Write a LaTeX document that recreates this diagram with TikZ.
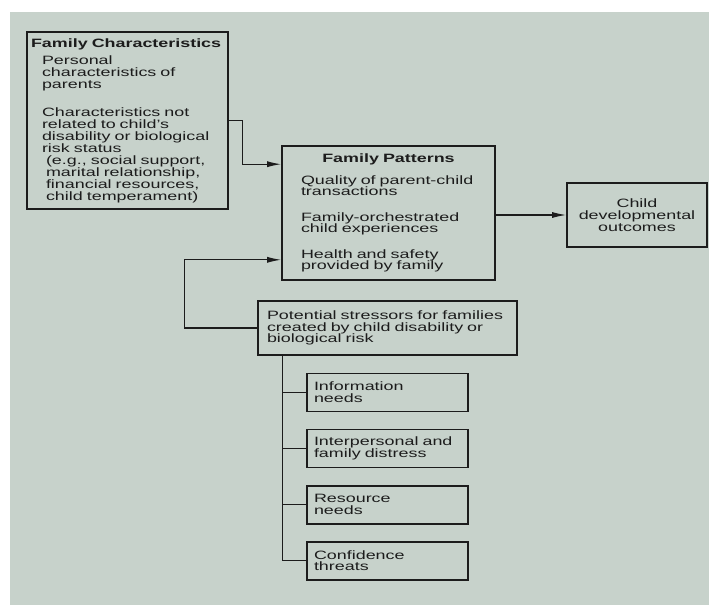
\documentclass[tikz,border=0pt]{standalone}
\usepackage{fontspec}
\setmainfont{Liberation Sans}[FakeStretch=1.48]
\usetikzlibrary{positioning,arrows.meta}
\definecolor{paper}{RGB}{199,210,203}
\definecolor{ink}{RGB}{28,28,28}
\begin{document}
\begin{tikzpicture}[x=1pt, y=-1pt,
  caja/.style={draw=ink, line width=1.6pt, text=ink, inner ysep=1pt, align=left,
    font={\fontsize{12.1}{11.7}\selectfont\lineskiplimit=-30pt}},
  cajita/.style={caja, text width=147pt, inner xsep=7pt, minimum height=38pt},
  linea/.style={draw=ink, line width=1.2pt},
  flecha/.style={linea, -{Latex[length=14pt, width=6pt]}},
  node distance=16.5pt
]
\useasboundingbox (0,0) rectangle (709,605);
\fill[white] (0,0) rectangle (709,605);
\fill[paper] (10,12) rectangle (709,605);

\node[caja, text width=193pt, inner xsep=4pt, minimum height=177pt,
  font={\fontsize{12.1}{12}\selectfont\lineskiplimit=-30pt}] (fc) at (127.5,120.5)
  {\textbf{Family Characteristics}\\[5pt]
   \hspace*{11pt}Personal\\
   \hspace*{11pt}characteristics of\\
   \hspace*{11pt}parents\\[16pt]
   \hspace*{11pt}Characteristics not\\
   \hspace*{11pt}related to child's\\
   \hspace*{11pt}disability or biological\\
   \hspace*{11pt}risk status\\
   \hspace*{15pt}(e.g., social support,\\
   \hspace*{15pt}marital relationship,\\
   \hspace*{15pt}financial resources,\\
   \hspace*{15pt}child temperament)};

\node[caja, text width=175pt, inner xsep=19pt, minimum height=134pt,
  font={\fontsize{12.1}{11.5}\selectfont\lineskiplimit=-30pt}] (fp) at (388.5,213)
  {\makebox[175pt]{\textbf{Family Patterns}}\\[10pt]
   Quality of parent-child\\
   transactions\\[14pt]
   Family-orchestrated\\
   child experiences\\[14pt]
   Health and safety\\
   provided by family};

\node[caja, align=center, text width=130pt, inner xsep=5pt, minimum height=64pt]
  (cdo) at (637,215) {Child\\developmental\\outcomes};

\node[caja, text width=241pt, inner xsep=9pt, minimum height=54pt] (pst) at (387.5,328)
  {Potential stressors for families\\
   created by child disability or\\
   biological risk};

% estresores
\node[cajita] (info) at (387.5,392.5) {Information\\needs};
\node[cajita, below=of info] (dist) {Interpersonal and\\family distress};
\node[cajita, below=of dist] (recu) {Resource\\needs};
\node[cajita, below=of recu] (conf) {Confidence\\threats};

\draw[flecha] (fc.east) -- ++(14,0) |- ([yshift=-19pt]fp.north west);
\draw[flecha] (pst.west) -- ++(-73,0) |- ([yshift=21pt]fp.south west);
\draw[flecha] (fp.east |- cdo.west) -- (cdo.west);

\draw[linea] ([xshift=25pt]pst.south west) |- (conf.west);
\foreach \c in {info,dist,recu}
  \draw[linea] (\c.west) -- ++(-24,0);
\end{tikzpicture}
\end{document}
